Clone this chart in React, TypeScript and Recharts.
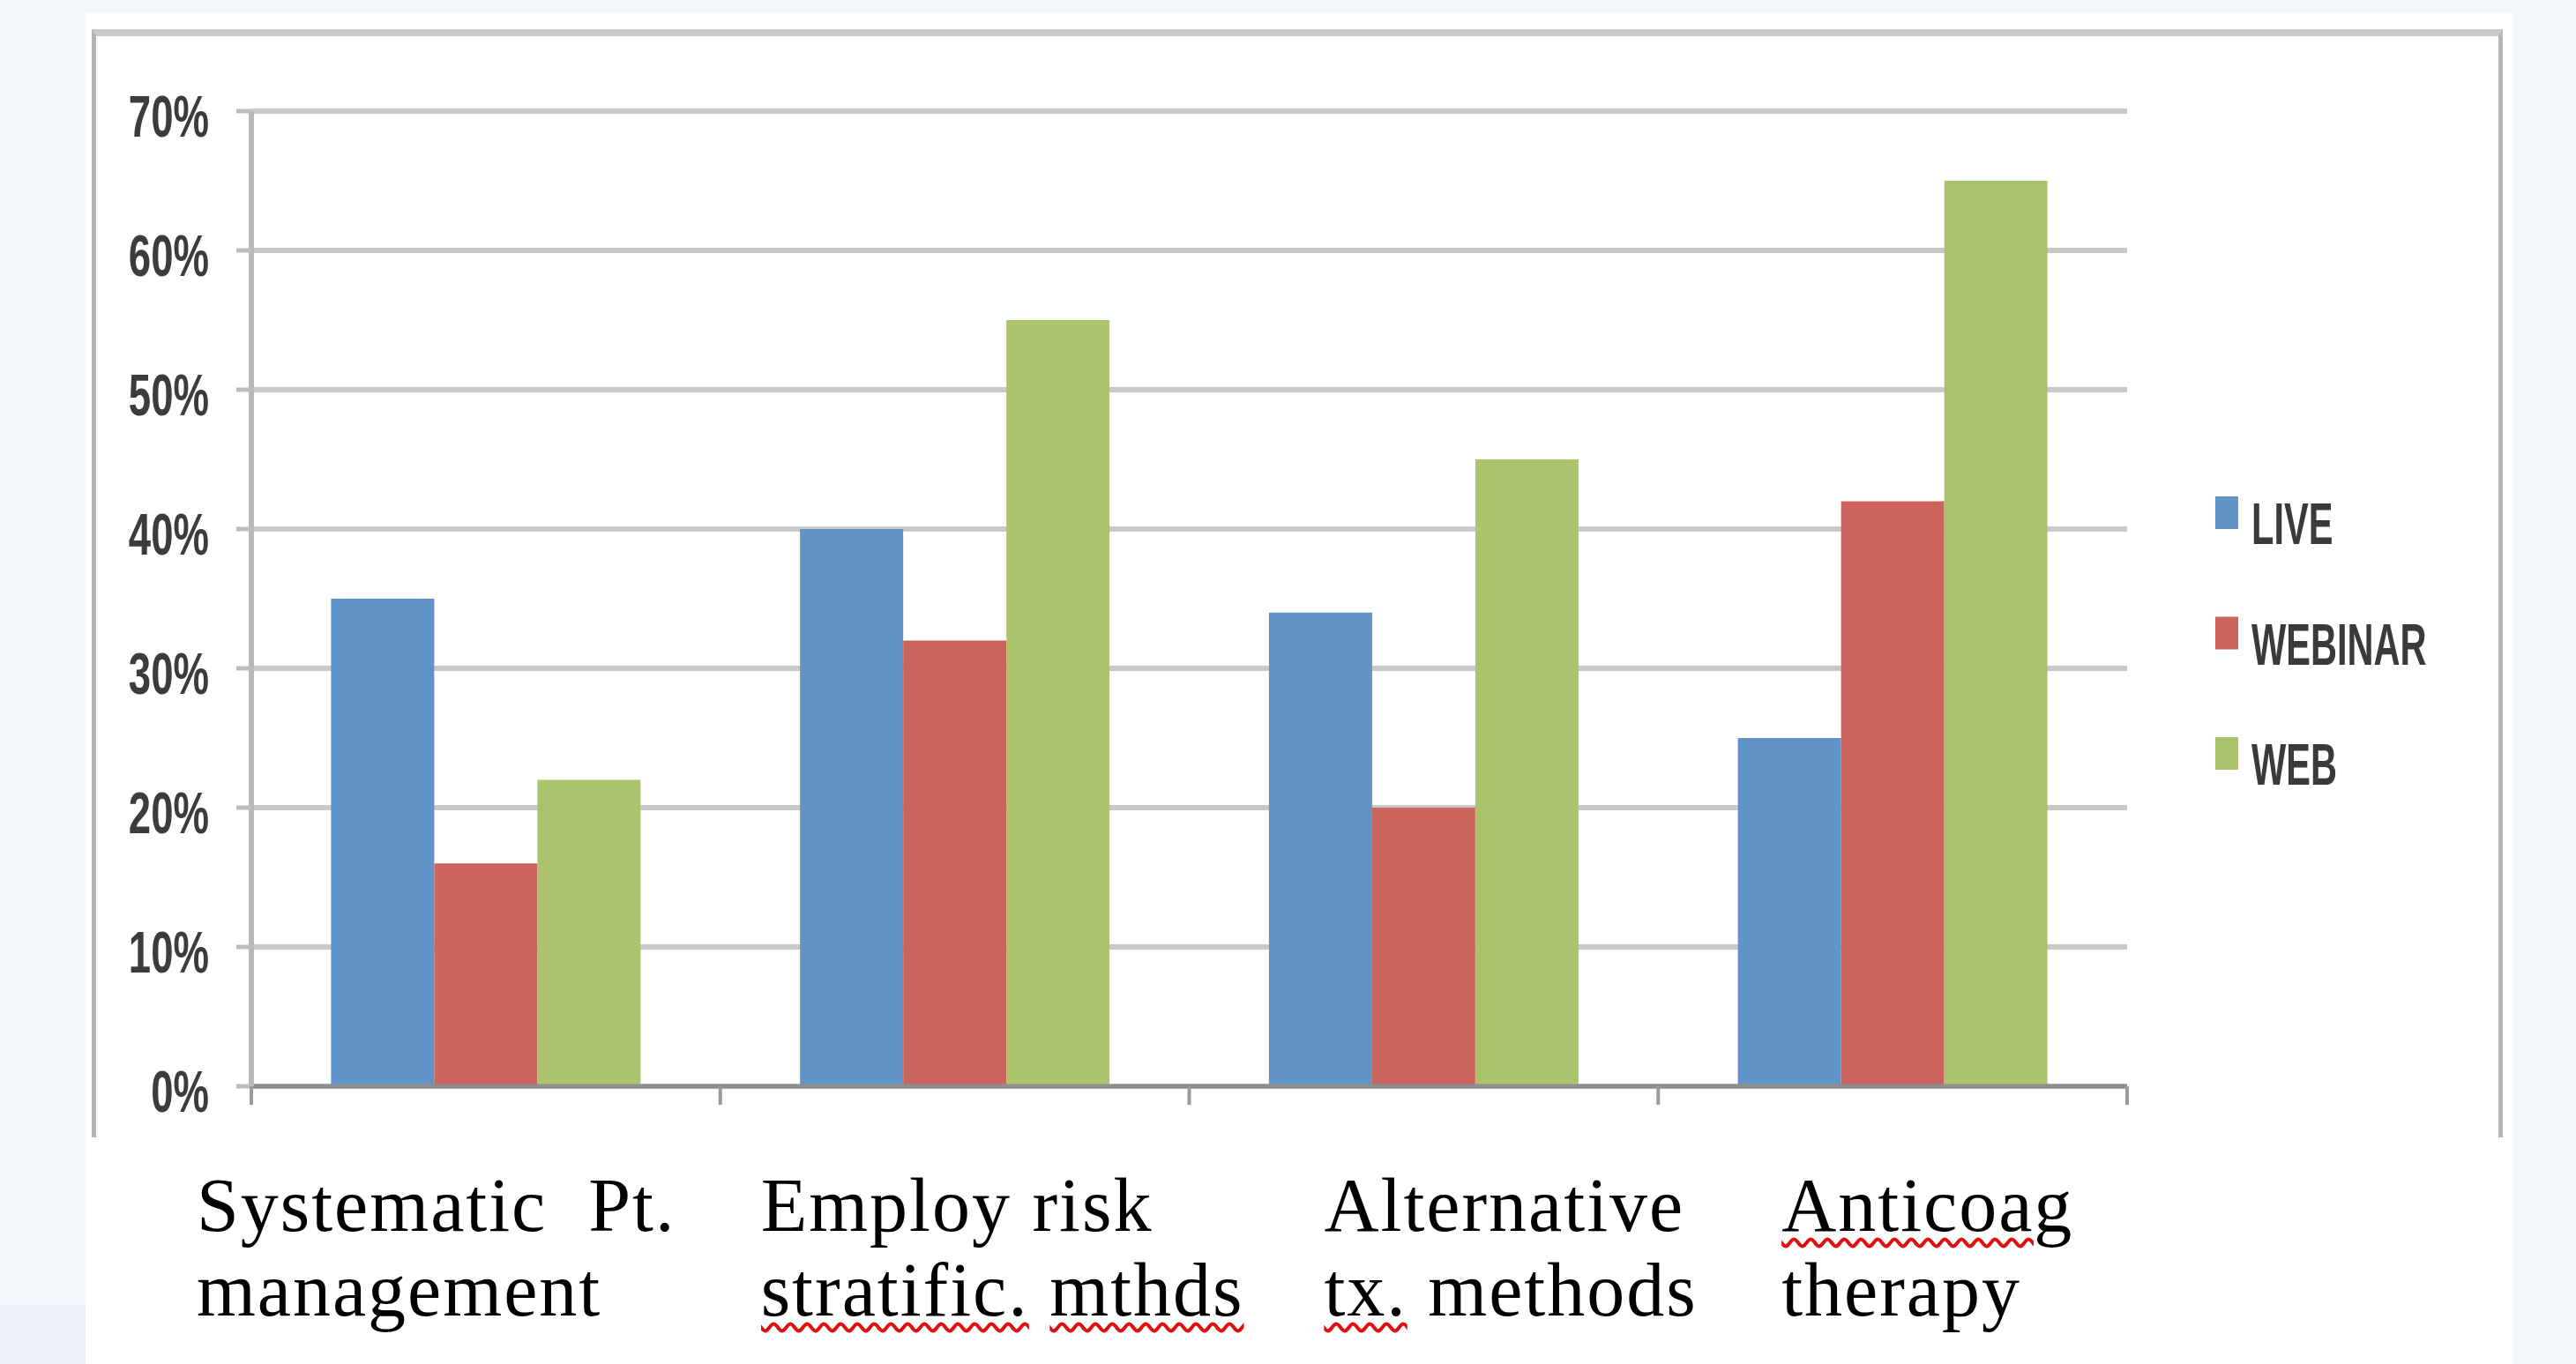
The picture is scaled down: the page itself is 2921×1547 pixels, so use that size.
import React from 'react';
import { BarChart, Bar, XAxis, YAxis, CartesianGrid } from 'recharts';

// categories as they appear under the chart (two lines each)
const categories = [
    'Systematic  Pt.\nmanagement',
    'Employ risk\nstratific. mthds',
    'Alternative\ntx. methods',
    'Anticoag\ntherapy',
];
const live = [35, 40, 34, 25];
const webinar = [16, 32, 20, 42];
const web = [22, 55, 45, 65];
const yTicks = [0, 10, 20, 30, 40, 50, 60, 70];

const seriesKeys = ['live', 'webinar', 'web'];
const seriesNames = ['LIVE', 'WEBINAR', 'WEB'];
const seriesColors = ['#6193c9', '#cc645e', '#abc46c'];

// words the spell checker underlined on the slide
const flaggedWords = ['Anticoag', 'stratific.', 'mthds', 'tx.'];
// left edge of each label box, relative to the category centre
const labelShift = [-328, -220, -113, -126];

const data = categories.map((name, i) => ({
    name,
    live: live[i],
    webinar: webinar[i],
    web: web[i],
}));

const PercentTick = ({ x, y, payload }: any) => (
    <text
        transform={`translate(${x},${y + 29}) scale(0.69,1)`}
        textAnchor="end"
        fontFamily='"Liberation Sans", Arial, sans-serif'
        fontWeight={700}
        fontSize={66}
        fill="#3c3c3c"
    >
        {payload.value}%
    </text>
);

const CategoryTick = ({ x, y, payload, index, width }: any) => {
    const band = (width || 2127) / categories.length;
    const lines = String(payload.value).split('\n');
    return (
        <g>
            <line x1={x - band / 2} x2={x - band / 2} y1={y} y2={y + 21} stroke="#9a9a9a" strokeWidth={4} />
            {index === categories.length - 1 && (
                <line x1={x + band / 2} x2={x + band / 2} y1={y} y2={y + 21} stroke="#9a9a9a" strokeWidth={4} />
            )}
            <foreignObject x={x + labelShift[index]} y={y + 87} width={660} height={230}>
                <div
                    style={{
                        fontFamily: '"Liberation Serif", "Times New Roman", serif',
                        fontSize: 86,
                        lineHeight: '96px',
                        letterSpacing: 2,
                        color: '#000',
                        whiteSpace: 'pre',
                    }}
                >
                    {lines.map((line, li) => (
                        <div key={li}>
                            {line.split(' ').map((w, wi) => (
                                <React.Fragment key={wi}>
                                    {wi > 0 ? ' ' : ''}
                                    {flaggedWords.includes(w) ? (
                                        <span
                                            style={{
                                                textDecorationLine: 'underline',
                                                textDecorationStyle: 'wavy',
                                                textDecorationColor: '#e01010',
                                                textDecorationThickness: '4px',
                                                textUnderlineOffset: '8px',
                                            }}
                                        >
                                            {w}
                                        </span>
                                    ) : (
                                        w
                                    )}
                                </React.Fragment>
                            ))}
                        </div>
                    ))}
                </div>
            </foreignObject>
        </g>
    );
};

export default function App() {
    return (
        <div
            style={{
                position: 'absolute',
                left: 0,
                top: 0,
                width: 2921,
                height: 1547,
                background: '#f3f8fa',
                overflow: 'hidden',
            }}
        >
            {/* slide background pieces */}
            <div style={{ position: 'absolute', left: 0, top: 1480, width: 97, height: 67, background: '#edf1f7' }} />
            <div style={{ position: 'absolute', left: 97, top: 14, width: 2753, height: 1533, background: '#fff' }} />
            {/* outer chart frame */}
            <div
                style={{
                    position: 'absolute',
                    left: 104,
                    top: 33,
                    width: 2734,
                    height: 1257,
                    boxSizing: 'border-box',
                    borderLeft: '5px solid #b5b5b5',
                    borderRight: '5px solid #b5b5b5',
                    borderTop: '8px solid #c9c9c9',
                }}
            />

            {/* Chart */}
            <div style={{ position: 'absolute', left: 0, top: 0 }}>
                <BarChart
                    width={2921}
                    height={1547}
                    data={data}
                    margin={{ top: 126, right: 509, left: 0, bottom: 15 }}
                    barCategoryGap="17%"
                    barGap={0}
                >
                    <CartesianGrid vertical={false} stroke="#c8c8c8" strokeWidth={6} />
                    <XAxis
                        dataKey="name"
                        height={300}
                        interval={0}
                        tickSize={0}
                        tickMargin={0}
                        tickLine={false}
                        axisLine={{ stroke: '#8e8e8e', strokeWidth: 5 }}
                        tick={<CategoryTick />}
                    />
                    <YAxis
                        width={285}
                        domain={[0, 70]}
                        ticks={yTicks}
                        interval={0}
                        tickSize={17}
                        tickMargin={31}
                        axisLine={{ stroke: '#b9b9b9', strokeWidth: 6 }}
                        tickLine={{ stroke: '#bdbdbd', strokeWidth: 5 }}
                        tick={<PercentTick />}
                    />
                    {seriesKeys.map((k, i) => (
                        <Bar key={k} dataKey={k} name={seriesNames[i]} fill={seriesColors[i]} isAnimationActive={false} />
                    ))}
                </BarChart>
            </div>

            {/* Legend */}
            <svg style={{ position: 'absolute', left: 2500, top: 540 }} width={320} height={380}>
                {seriesNames.map((n, i) => {
                    const base = 77 + 136.5 * i;
                    return (
                        <g key={n}>
                            <rect x={12} y={base - 54} width={26} height={37} fill={seriesColors[i]} />
                            <text
                                transform={`translate(53,${base}) scale(0.63,1)`}
                                fontFamily='"Liberation Sans", Arial, sans-serif'
                                fontWeight={700}
                                fontSize={66}
                                fill="#3a3a3a"
                            >
                                {n}
                            </text>
                        </g>
                    );
                })}
            </svg>
        </div>
    );
}
